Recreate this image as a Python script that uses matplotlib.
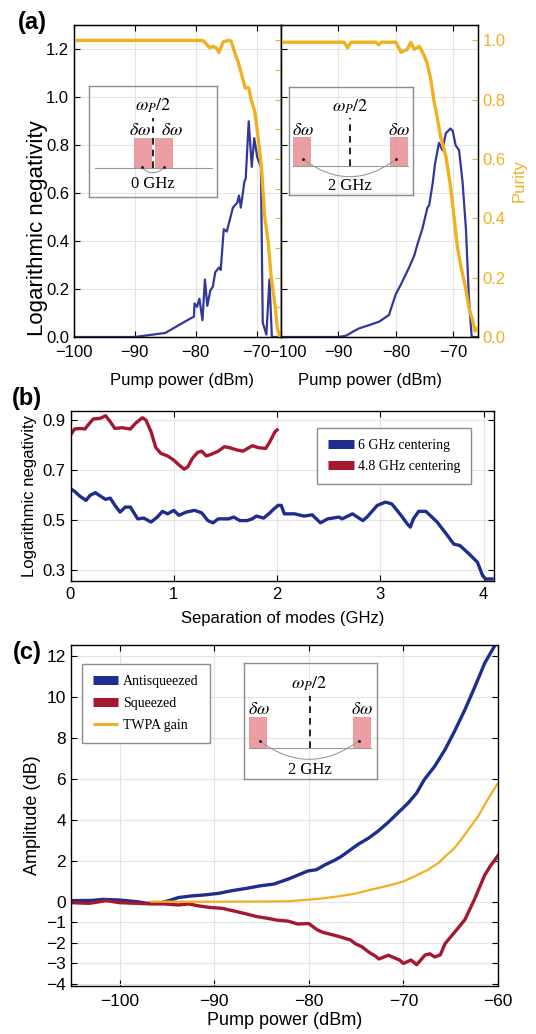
import numpy as np
import matplotlib
matplotlib.use('Agg')
import matplotlib.pyplot as plt
from matplotlib.lines import Line2D
from matplotlib.patches import Rectangle, PathPatch
from matplotlib.path import Path
from matplotlib.transforms import ScaledTranslation

plt.rcParams['font.family'] = ['Liberation Sans', 'DejaVu Sans']
plt.rcParams['mathtext.fontset'] = 'stix'
plt.rcParams['font.size'] = 12

# ---- panel (a): 0 GHz separation (left) ----
pump_ln_0 = [-100, -90, -85, -81.8, -80.3, -80.2, -79.8, -79.4, -78.9, -78.5, -78.1, -77.6,
             -77.2, -76.8, -76.2, -75.9, -75.4, -74.9, -74.3, -73.9, -73.2, -72.9, -72.6,
             -72.0, -71.8, -71.3, -70.8, -70.4, -69.9, -69.3, -69.0, -68.4, -67.9, -67.5, -66]
logneg_0 = [0, 0, 0.017, 0.064, 0.085, 0.14, 0.126, 0.16, 0.07, 0.24, 0.13, 0.195,
            0.21, 0.27, 0.29, 0.28, 0.45, 0.44, 0.50, 0.54, 0.56, 0.59, 0.54,
            0.65, 0.66, 0.90, 0.71, 0.83, 0.75, 0.71, 0.06, 0.01, 0.24, 0.0, 0.0]
pump_pur_0 = [-100, -78.8, -77.7, -77.2, -76.6, -76.2, -75.5, -74.6, -74.2, -73.5, -73.0, -72.4,
              -71.9, -71.3, -70.9, -70.3, -69.8, -69.2, -68.7, -68.1, -67.6, -67.0, -66.6, -66.2]
purity_0 = [1.0, 1.0, 0.975, 0.98, 0.975, 0.96, 0.995, 1.0, 0.998, 0.953, 0.925, 0.88,
            0.84, 0.84, 0.80, 0.76, 0.68, 0.57, 0.41, 0.32, 0.20, 0.11, 0.03, 0.0]

# ---- panel (a): 2 GHz separation (right) ----
pump_ln_2 = [-100, -90.1, -88.7, -87.5, -86.4, -84.6, -82.9, -81.2, -80.0, -79.1, -77.7, -76.8,
             -76.2, -75.4, -74.5, -74.2, -73.6, -73.2, -72.5, -71.9, -71.3, -70.5, -70.1,
             -69.6, -69.0, -68.4, -67.8, -67.3, -66.8, -65.7]
logneg_2 = [0, 0, 0.005, 0.022, 0.036, 0.05, 0.064, 0.092, 0.18, 0.22, 0.29, 0.34,
            0.39, 0.45, 0.54, 0.55, 0.64, 0.72, 0.81, 0.78, 0.85, 0.87, 0.86,
            0.80, 0.78, 0.65, 0.45, 0.17, 0, 0]
pump_pur_2 = [-100, -89, -88.4, -87.8, -83.5, -83.0, -82.5, -80, -79.1, -78.0, -77.4, -76.8,
              -75.9, -75.1, -74.5, -73.9, -73.4, -72.8, -72.2, -71.3, -70.5, -69.9, -69.3,
              -68.7, -67.8, -67.3, -66.7, -66.2, -65.7]
purity_2 = [0.994, 0.994, 0.975, 0.994, 0.994, 0.985, 0.994, 0.994, 0.96, 0.97, 0.994, 0.97,
            0.98, 0.95, 0.92, 0.866, 0.80, 0.74, 0.675, 0.61, 0.51, 0.41, 0.305,
            0.24, 0.16, 0.10, 0.06, 0.02, 0.03]

# ---- panel (b) ----
sep_6 = [0, 0.04, 0.09, 0.15, 0.19, 0.24, 0.29, 0.34, 0.385, 0.43, 0.48, 0.53, 0.58, 0.65,
         0.71, 0.78, 0.84, 0.89, 0.94, 1.0, 1.05, 1.12, 1.2, 1.27, 1.33, 1.38, 1.43, 1.53,
         1.58, 1.64, 1.71, 1.76, 1.8, 1.87, 1.93, 1.97, 2.01, 2.04, 2.07, 2.17, 2.26, 2.34,
         2.42, 2.49, 2.6, 2.63, 2.73, 2.83, 2.87, 2.97, 3.05, 3.11, 3.2, 3.26, 3.29, 3.32,
         3.37, 3.44, 3.55, 3.65, 3.71, 3.77, 3.86, 3.94, 3.99, 4.02, 4.08]
ln_6 = [0.625, 0.614, 0.595, 0.578, 0.598, 0.609, 0.595, 0.582, 0.587, 0.558, 0.531, 0.551,
        0.551, 0.504, 0.507, 0.491, 0.511, 0.534, 0.524, 0.538, 0.518, 0.531, 0.538, 0.528,
        0.497, 0.488, 0.504, 0.504, 0.511, 0.497, 0.497, 0.504, 0.515, 0.507, 0.528, 0.544,
        0.558, 0.558, 0.524, 0.524, 0.515, 0.52, 0.488, 0.504, 0.511, 0.504, 0.524, 0.497,
        0.511, 0.558, 0.571, 0.564, 0.518, 0.484, 0.471, 0.504, 0.534, 0.534, 0.491, 0.437,
        0.403, 0.397, 0.363, 0.33, 0.276, 0.263, 0.263]
sep_48 = [0, 0.04, 0.09, 0.14, 0.17, 0.22, 0.29, 0.34, 0.385, 0.43, 0.5, 0.58, 0.63, 0.695,
          0.73, 0.78, 0.825, 0.875, 0.94, 1.0, 1.05, 1.1, 1.135, 1.18, 1.23, 1.27, 1.315,
          1.36, 1.43, 1.49, 1.54, 1.61, 1.67, 1.76, 1.82, 1.89, 1.93, 1.98, 2.0]
ln_48 = [0.84, 0.864, 0.866, 0.864, 0.88, 0.904, 0.907, 0.917, 0.893, 0.866, 0.869, 0.864,
         0.887, 0.909, 0.90, 0.853, 0.79, 0.766, 0.756, 0.739, 0.72, 0.703, 0.712, 0.746,
         0.77, 0.775, 0.756, 0.762, 0.775, 0.793, 0.789, 0.78, 0.775, 0.797, 0.789, 0.786,
         0.813, 0.853, 0.86]

# ---- panel (c) ----
pump_anti = [-105.1, -103, -101.8, -100, -98.2, -97.1, -95.6, -94.6, -93.8, -92.4, -91.0,
             -89.5, -88.1, -86.6, -85.2, -83.7, -82.2, -80.1, -79.2, -78.3, -77.3, -76.6,
             -75.7, -74.8, -73.7, -72.7, -71.6, -70.6, -69.5, -68.6, -67.8, -66.7, -65.6,
             -64.6, -63.5, -62.5, -61.4, -60.6, -60.0]
anti = [0.05, 0.06, 0.11, 0.08, 0.0, -0.08, -0.05, 0.08, 0.2, 0.28, 0.33, 0.41, 0.54, 0.65,
        0.77, 0.86, 1.1, 1.5, 1.56, 1.8, 2.02, 2.2, 2.5, 2.8, 3.1, 3.44, 3.88, 4.33, 4.82,
        5.31, 5.96, 6.61, 7.43, 8.32, 9.38, 10.44, 11.66, 12.3, 12.8]
pump_sq = [-105.1, -103.2, -101.4, -100, -98.2, -96.7, -95.3, -93.8, -92.7, -91.6, -90.5,
           -89.1, -87.6, -86.6, -85.5, -84.4, -83.4, -82.2, -81.2, -80.0, -79.1, -78.5,
           -76.9, -75.6, -75.1, -74.4, -73.7, -72.9, -72.6, -71.6, -70.4, -70.0, -69.2,
           -68.6, -67.7, -67.2, -66.7, -66.1, -65.6, -64.6, -63.5, -62.5, -61.4, -60.8, -60.0]
sq = [-0.05, -0.08, 0.05, -0.05, -0.08, -0.11, -0.11, -0.16, -0.11, -0.21, -0.28, -0.33,
      -0.49, -0.6, -0.73, -0.81, -0.9, -0.95, -1.09, -1.07, -1.38, -1.5, -1.69, -1.87,
      -2.05, -2.2, -2.45, -2.68, -2.8, -2.62, -2.85, -3.02, -2.85, -3.08, -2.6, -2.55,
      -2.7, -2.6, -2.05, -1.5, -0.88, 0.1, 1.3, 1.75, 2.25]
pump_gain = [-96.7, -90, -87, -85, -82.2, -80, -78.7, -76.9, -75.1, -73.4, -71.6, -70,
             -68.8, -67.4, -66.3, -65.6, -64.6, -63.9, -63.0, -62.1, -61.1, -60]
gain = [0, 0, 0.005, 0.01, 0.02, 0.1, 0.15, 0.26, 0.39, 0.59, 0.78, 0.99,
        1.24, 1.56, 1.89, 2.2, 2.62, 3.03, 3.6, 4.17, 4.98, 5.8]

BLUE_A = '#34379a'
BLUE = '#1f2d8e'
RED = '#a5182f'
ORANGE = '#f0b120'
GRID = '#e4e4e4'
SERIF = 'Liberation Serif'

W, H = 536, 1034
fig = plt.figure(figsize=(W / 100, H / 100), dpi=100)


def px_rect(x0, y0, x1, y1):
    return [x0 / W, 1 - y1 / H, (x1 - x0) / W, (y1 - y0) / H]


def style(ax, right=True, xpad=5.5):
    ax.grid(True, color=GRID, lw=0.8)
    ax.set_axisbelow(True)
    ax.tick_params(direction='in', length=4, width=0.8, top=True, right=right, labelsize=12)
    ax.tick_params(axis='x', pad=xpad)
    for s in ax.spines.values():
        s.set_linewidth(1.0)


def draw_inset(rect, label, wide=True):
    ax = fig.add_axes(rect)
    ax.set_xlim(0, 1)
    ax.set_ylim(0, 1)
    ax.set_xticks([])
    ax.set_yticks([])
    ax.patch.set_visible(False)
    for s in ax.spines.values():
        s.set_color('#8c8c8c')
        s.set_linewidth(1.0)
    if wide:
        boxes = [(0.035, 0.175), (0.82, 0.96)]
        mid, base, top = 0.493, 0.265, 0.535
        ends, arc_y, dip = (0.115, 0.865), 0.33, 0.17
        dw_x, cap_y, line_x = (0.11, 0.89), 0.08, (0.035, 0.96)
    else:
        boxes = [(0.352, 0.491), (0.517, 0.656)]
        mid, base, top = 0.502, 0.26, 0.535
        ends, arc_y, dip = (0.41, 0.59), 0.27, 0.22
        dw_x, cap_y, line_x = (0.398, 0.647), 0.12, (0.045, 0.96)
    for x0, x1 in boxes:
        ax.add_patch(Rectangle((x0, base), x1 - x0, top - base, fc='#e8878c', alpha=0.8, ec='none'))
    ax.plot(line_x, [base, base], color='#9a9a9a', lw=0.8)
    ax.plot([mid, mid], [base, 0.715], color='k', lw=1.2, ls=(0, (4, 3)))
    ax.text(mid, 0.82, r'$\omega_P/2$', ha='center', va='center', fontsize=13)
    for x in dw_x:
        ax.text(x, 0.60, r'$\delta\omega$', ha='center', va='center', fontsize=13)
    arc = Path([(ends[0], arc_y), (0.5 * (ends[0] + ends[1]), 2 * dip - arc_y), (ends[1], arc_y)],
               [Path.MOVETO, Path.CURVE3, Path.CURVE3])
    ax.add_patch(PathPatch(arc, fc='none', ec='#9a9a9a', lw=0.8))
    ax.plot(ends, [arc_y, arc_y], 'k.', ms=2)
    ax.text(mid, cap_y, label, ha='center', va='center', family=SERIF, fontsize=12)


ln_ticks = np.arange(0, 1.21, 0.2)

# (a) left
ax_al = fig.add_axes(px_rect(74, 25, 281, 337))
ax_al.plot(pump_ln_0, logneg_0, color=BLUE_A, lw=1.6)
ax_al.set_xlim(-100, -66)
ax_al.set_ylim(0, 1.302)
ax_al.set_xticks([-100, -90, -80, -70])
ax_al.set_yticks(ln_ticks)
ax_al.set_yticklabels(['%.1f' % v for v in ln_ticks])
style(ax_al, right=False)
ax_al.set_ylabel('Logarithmic negativity', fontsize=16)
ax_al.yaxis.set_label_coords(-0.125, 0.35)
ax_al.set_xlabel('Pump power (dBm)', fontsize=12)
ax_al.xaxis.set_label_coords(0.52, -0.115)
tw_al = ax_al.twinx()
tw_al.plot(pump_pur_0, purity_0, color=ORANGE, lw=2.4)
tw_al.set_ylim(0, 1.052)
tw_al.set_yticks(np.arange(0, 1.01, 0.1))
tw_al.tick_params(axis='y', direction='in', length=4, colors=ORANGE, labelright=False)

# (a) right
ax_ar = fig.add_axes(px_rect(281, 25, 478, 337))
ax_ar.plot(pump_ln_2, logneg_2, color=BLUE_A, lw=1.6)
ax_ar.set_xlim(-100, -65.7)
ax_ar.set_ylim(0, 1.302)
ax_ar.set_xticks([-100, -90, -80, -70])
ax_ar.set_yticks(ln_ticks)
style(ax_ar, right=False)
ax_ar.tick_params(labelleft=False)
first = ax_ar.xaxis.get_major_ticks()[0].label1
first.set_transform(first.get_transform() + ScaledTranslation(0.07, 0, fig.dpi_scale_trans))
ax_ar.set_xlabel('Pump power (dBm)', fontsize=12)
ax_ar.xaxis.set_label_coords(0.454, -0.115)
tw_ar = ax_ar.twinx()
tw_ar.plot(pump_pur_2, purity_2, color=ORANGE, lw=2.4)
tw_ar.set_ylim(0, 1.052)
tw_ar.set_yticks(np.arange(0, 1.01, 0.2))
tw_ar.set_yticklabels(['%.1f' % v for v in np.arange(0, 1.01, 0.2)])
tw_ar.tick_params(axis='y', direction='in', length=4, colors=ORANGE, labelsize=12)
tw_ar.set_ylabel('Purity', color=ORANGE, fontsize=12)

draw_inset(px_rect(89.3, 86, 216.7, 197.3), '0 GHz', wide=False)
draw_inset(px_rect(289, 87.3, 412.7, 195), '2 GHz')

# (b)
ax_b = fig.add_axes(px_rect(70.5, 411, 494, 581))
ax_b.plot(sep_6, ln_6, color=BLUE, lw=2.4)
ax_b.plot(sep_48, ln_48, color=RED, lw=2.4)
ax_b.set_xlim(0, 4.1)
ax_b.set_ylim(0.255, 0.936)
ax_b.set_xticks([0, 1, 2, 3, 4])
ax_b.set_yticks([0.3, 0.5, 0.7, 0.9])
style(ax_b, xpad=4.5)
ax_b.set_xlabel('Separation of modes (GHz)', fontsize=12, labelpad=6)
ax_b.set_ylabel('Logarithmic negativity', fontsize=12)
hb = [Line2D([0], [0], color=BLUE, lw=6.5, solid_capstyle='butt'),
      Line2D([0], [0], color=RED, lw=6.5, solid_capstyle='butt')]
ax_b.legend(hb, ['6 GHz centering', '4.8 GHz centering'], loc='upper left',
            bbox_to_anchor=(0.583, 0.898), borderaxespad=0, fancybox=False,
            edgecolor='#8c8c8c', framealpha=1, prop={'family': SERIF, 'size': 10},
            handlelength=1.85, handletextpad=0.35, borderpad=0.75, labelspacing=0.6)

# (c)
ax_c = fig.add_axes(px_rect(71, 645, 498, 986))
ax_c.plot(pump_anti, anti, color=BLUE, lw=2.4)
ax_c.plot(pump_sq, sq, color=RED, lw=2.4)
ax_c.plot(pump_gain, gain, color=ORANGE, lw=1.6)
ax_c.set_xlim(-105.15, -60)
ax_c.set_ylim(-4.12, 12.54)
ax_c.set_xticks([-100, -90, -80, -70, -60])
ax_c.set_yticks([-4, -3, -2, -1, 0, 2, 4, 6, 8, 10, 12])
style(ax_c, xpad=6)
ax_c.tick_params(labelsize=12.5)
ax_c.set_xlabel('Pump power (dBm)', fontsize=13, labelpad=2)
ax_c.set_ylabel('Amplitude (dB)', fontsize=13)
hc = [Line2D([0], [0], color=BLUE, lw=6.5, solid_capstyle='butt'),
      Line2D([0], [0], color=RED, lw=6.5, solid_capstyle='butt'),
      Line2D([0], [0], color=ORANGE, lw=2.2, solid_capstyle='butt')]
ax_c.legend(hc, ['Antisqueezed', 'Squeezed', 'TWPA gain'], loc='upper left',
            bbox_to_anchor=(0.025, 0.944), borderaxespad=0, fancybox=False,
            edgecolor='#8c8c8c', framealpha=1, prop={'family': SERIF, 'size': 10},
            handlelength=1.85, handletextpad=0.35, borderpad=0.8, labelspacing=0.65)
draw_inset(px_rect(244.3, 663.3, 376.7, 779), '2 GHz')

fig.text(32 / W, 1 - 22 / H, '(a)', fontsize=17, fontweight='bold', ha='center', va='center')
fig.text(27.4 / W, 1 - 398 / H, '(b)', fontsize=17, fontweight='bold', ha='center', va='center')
fig.text(27.4 / W, 1 - 652 / H, '(c)', fontsize=17, fontweight='bold', ha='center', va='center')

fig.savefig('out.png', dpi=100)
